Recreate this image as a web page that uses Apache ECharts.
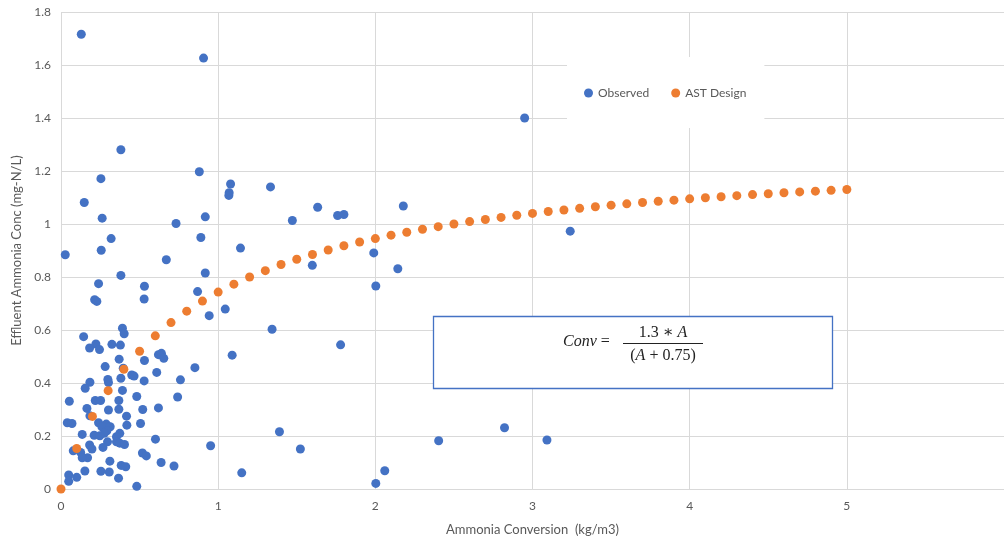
<!DOCTYPE html>
<html>
<head>
<meta charset="utf-8">
<script src="https://cdn.jsdelivr.net/npm/echarts@6/dist/echarts.min.js"></script>
<style>
html,body{margin:0;padding:0;background:#fff;}
#chart{width:1004px;height:541px;}
</style>
</head>
<body>
<div id="chart"></div>
<script>
// Observed points: conversion (kg/m3) and effluent conc (mg-N/L)
const observedX = [
  0.129,0.907,0.381,0.254,0.88,1.079,1.07,1.068,1.333,0.148,0.262,0.918,0.732,1.472,0.319,0.89,0.256,1.142,0.027,0.67,
  1.633,1.76,1.80,2.178,2.95,1.599,1.99,2.143,2.003,3.24,1.779,1.523,2.403,2.822,3.092,2.06,2.003,
  0.381,0.918,0.239,0.531,0.529,0.214,0.228,0.869,1.045,0.943,0.391,0.402,0.144,0.222,0.182,0.245,0.324,0.378,0.37,
  0.281,0.396,0.531,0.62,0.639,0.654,0.852,1.089,1.343,0.609,0.45,0.465,0.381,0.298,0.302,0.529,0.76,0.184,0.154,
  0.391,0.053,0.218,0.252,0.368,0.482,0.742,0.165,0.302,0.368,0.52,0.62,0.184,0.417,0.04,0.07,0.239,0.506,0.419,
  0.288,0.26,0.313,0.292,0.275,0.374,0.135,0.211,0.247,0.353,0.601,0.296,0.353,0.374,0.404,0.182,0.267,0.197,0.952,
  1.39,0.078,0.125,0.169,0.135,0.518,0.543,0.311,0.637,0.719,0.383,0.412,0.152,0.254,0.307,1.15,0.049,0.10,0.366,
  0.049,0.482
];
const observedY = [
  1.716,1.626,1.28,1.171,1.197,1.151,1.118,1.108,1.14,1.081,1.022,1.027,1.002,1.013,0.945,0.949,0.901,0.909,0.884,0.865,
  1.063,1.032,1.036,1.068,1.40,0.844,0.891,0.831,0.766,0.973,0.544,0.151,0.182,0.231,0.185,0.069,0.021,
  0.806,0.815,0.775,0.765,0.717,0.714,0.708,0.745,0.679,0.654,0.607,0.586,0.575,0.547,0.532,0.526,0.546,0.543,0.49,
  0.462,0.456,0.485,0.507,0.512,0.493,0.458,0.505,0.603,0.44,0.43,0.426,0.418,0.413,0.402,0.408,0.412,0.403,0.38,
  0.372,0.331,0.334,0.334,0.334,0.349,0.347,0.304,0.298,0.301,0.30,0.306,0.276,0.275,0.25,0.247,0.25,0.247,0.241,
  0.245,0.235,0.235,0.22,0.21,0.21,0.206,0.203,0.201,0.197,0.188,0.178,0.178,0.173,0.168,0.166,0.157,0.151,0.163,
  0.216,0.144,0.138,0.118,0.118,0.136,0.125,0.105,0.10,0.087,0.089,0.084,0.068,0.067,0.064,0.061,0.053,0.044,0.041,
  0.029,0.01
];
// AST design curve points
const designX = [0,0.1,0.2,0.3,0.4,0.5,0.6,0.7,0.8,0.9,1.0,1.1,1.2,1.3,1.4,1.5,1.6,1.7,1.8,1.9,2.0,2.1,2.2,2.3,2.4,2.5,
  2.6,2.7,2.8,2.9,3.0,3.1,3.2,3.3,3.4,3.5,3.6,3.7,3.8,3.9,4.0,4.1,4.2,4.3,4.4,4.5,4.6,4.7,4.8,4.9,5.0];
const designY = [0,0.153,0.274,0.371,0.452,0.52,0.578,0.628,0.671,0.709,0.743,0.773,0.8,0.824,0.847,0.867,0.885,0.902,
  0.918,0.932,0.945,0.958,0.969,0.98,0.99,1.0,1.009,1.017,1.025,1.033,1.04,1.047,1.053,1.059,1.065,1.071,1.076,1.081,
  1.086,1.09,1.095,1.099,1.103,1.107,1.111,1.114,1.118,1.121,1.124,1.127,1.13];
const seriesNames = ['Observed','AST Design'];
const xAxisName = 'Ammonia Conversion  (kg/m3)';
const yAxisName = 'Effluent Ammonia Conc (mg-N/L)';

const pair = (xs, ys) => xs.map((x, i) => [x, ys[i]]);
const labelFont = 'Lato, "Open Sans", sans-serif';
const mathFont = '"Liberation Serif", "DejaVu Serif", serif';

const chart = echarts.init(document.getElementById('chart'), null, {renderer: 'canvas'});
chart.setOption({
  animation: false,
  backgroundColor: '#fff',
  grid: {left: 61, top: 12, width: 945, height: 478, containLabel: false},
  legend: {
    left: 567, top: 57,
    backgroundColor: '#fff',
    padding: [30, 18, 29, 17],
    itemWidth: 9, itemHeight: 9, itemGap: 22,
    icon: 'circle',
    textStyle: {color: '#595959', fontSize: 12, fontFamily: labelFont},
    data: seriesNames
  },
  xAxis: {
    type: 'value', min: 0, max: 6, interval: 1,
    name: xAxisName, nameLocation: 'middle', nameGap: 34,
    nameTextStyle: {color: '#595959', fontSize: 13, fontFamily: labelFont},
    axisLine: {show: true, lineStyle: {color: '#D9D9D9', width: 1}},
    axisTick: {show: false},
    axisLabel: {color: '#595959', fontSize: 12, fontFamily: labelFont, margin: 11, showMaxLabel: false},
    splitLine: {show: true, lineStyle: {color: '#D9D9D9', width: 1}}
  },
  yAxis: {
    type: 'value', min: 0, max: 1.8, interval: 0.2,
    name: yAxisName, nameLocation: 'middle', nameGap: 37,
    nameTextStyle: {color: '#595959', fontSize: 13, fontFamily: labelFont},
    axisLine: {show: false},
    axisTick: {show: false},
    axisLabel: {color: '#595959', fontSize: 12, fontFamily: labelFont, margin: 10},
    splitLine: {show: true, lineStyle: {color: '#D9D9D9', width: 1}}
  },
  series: [
    {
      name: seriesNames[0], type: 'scatter', symbol: 'circle', symbolSize: 9,
      itemStyle: {color: '#4472C4', opacity: 1},
      data: pair(observedX, observedY)
    },
    {
      name: seriesNames[1], type: 'scatter', symbol: 'circle', symbolSize: 9,
      itemStyle: {color: '#ED7D31', opacity: 1},
      data: pair(designX, designY)
    }
  ],
  graphic: [
    {type: 'rect', z: 100, shape: {x: 433.5, y: 316.5, width: 399, height: 72},
      style: {fill: '#fff', stroke: '#4472C4', lineWidth: 1.3}},
    {type: 'text', z: 101, x: 563, y: 342,
      style: {text: '{i|Conv} =', fill: '#222', font: '16px ' + mathFont, verticalAlign: 'middle', align: 'left',
        rich: {i: {fontStyle: 'italic', fontSize: 16, fontFamily: mathFont, fill: '#222'}}}},
    {type: 'text', z: 101, x: 663, y: 333,
      style: {text: '1.3 ∗ {i|A}', fill: '#222', font: '16px ' + mathFont, verticalAlign: 'middle', align: 'center',
        rich: {i: {fontStyle: 'italic', fontSize: 16, fontFamily: mathFont, fill: '#222'}}}},
    {type: 'line', z: 101, shape: {x1: 623, y1: 343.5, x2: 703, y2: 343.5},
      style: {stroke: '#222', lineWidth: 1}},
    {type: 'text', z: 101, x: 663, y: 356,
      style: {text: '({i|A} + 0.75)', fill: '#222', font: '16px ' + mathFont, verticalAlign: 'middle', align: 'center',
        rich: {i: {fontStyle: 'italic', fontSize: 16, fontFamily: mathFont, fill: '#222'}}}}
  ]
});
</script>
</body>
</html>
